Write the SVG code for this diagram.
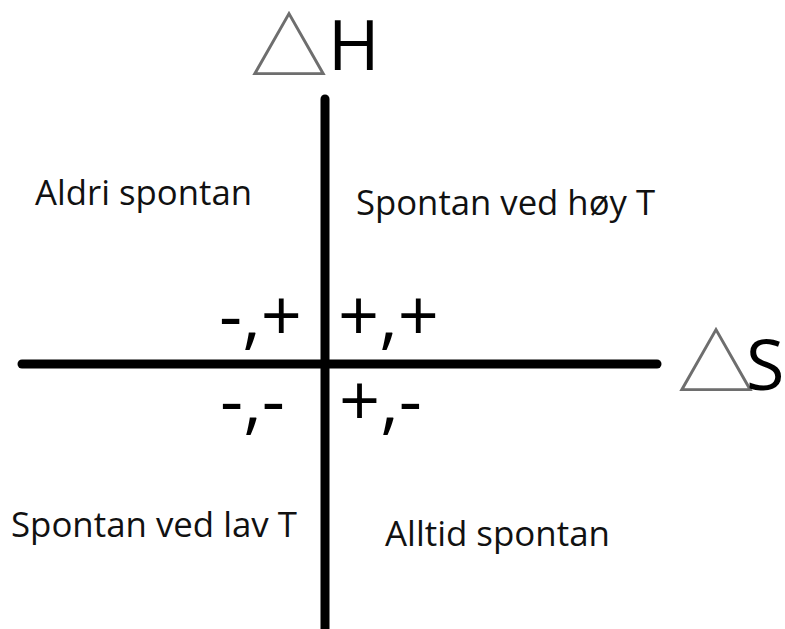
<svg xmlns="http://www.w3.org/2000/svg" width="785" height="629" viewBox="0 0 785 629">
  <style>
    .axis { stroke: #000; stroke-width: 9; stroke-linecap: round; fill: none; }
    .label { font-family: "Open Sans", "Liberation Sans", sans-serif; font-size: 35px; fill: #111; }
    .sign { font-family: "Open Sans", "Liberation Sans", sans-serif; font-size: 72px; fill: #000; }
    .tri { font-family: "Noto Sans CJK JP", "DejaVu Sans", sans-serif; font-size: 78px; fill: #6e6e6e; }
    .letter { font-family: "Open Sans", "Liberation Sans", sans-serif; font-size: 70px; fill: #000; }
  </style>
  <rect width="785" height="629" fill="#fff"/>

  <!-- axes -->
  <g id="axes">
    <line class="axis" x1="325" y1="99" x2="325" y2="640"/>
    <line class="axis" x1="22" y1="364" x2="657" y2="364"/>
  </g>

  <!-- axis titles -->
  <g id="axis-h">
    <text><tspan class="tri" x="250" y="76">△</tspan><tspan class="letter" x="328" y="70">H</tspan></text>
  </g>
  <g id="axis-s">
    <text><tspan class="tri" x="677" y="392">△</tspan><tspan class="letter" x="746" y="390">S</tspan></text>
  </g>

  <!-- quadrant descriptions -->
  <g id="q-upper-left">
    <text class="label" x="35" y="205" textLength="217" lengthAdjust="spacingAndGlyphs">Aldri spontan</text>
    <text class="sign" x="219" y="341">-,+</text>
  </g>
  <g id="q-upper-right">
    <text class="label" x="356" y="215" textLength="299" lengthAdjust="spacingAndGlyphs">Spontan ved høy T</text>
    <text class="sign" x="338" y="341">+,+</text>
  </g>
  <g id="q-lower-left">
    <text class="label" x="11" y="537" textLength="286" lengthAdjust="spacingAndGlyphs">Spontan ved lav T</text>
    <text class="sign" x="220" y="426">-,-</text>
  </g>
  <g id="q-lower-right">
    <text class="label" x="385" y="546" textLength="225" lengthAdjust="spacingAndGlyphs">Alltid spontan</text>
    <text class="sign" x="339" y="426">+,-</text>
  </g>
</svg>
